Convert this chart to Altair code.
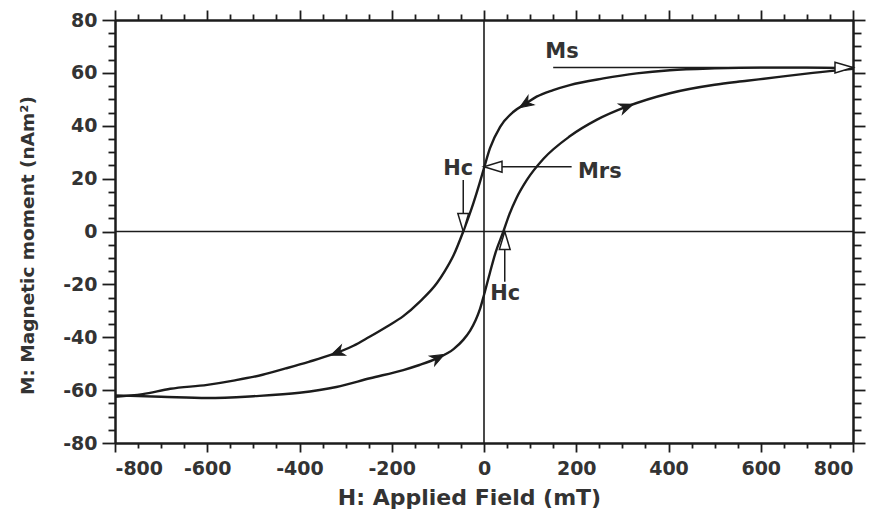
import altair as alt
import pandas as pd

# ---------------- data ----------------
# descending branch (upper curve, from +800 mT down to -800 mT)
down_H = [-800, -740, -680, -600, -540, -480, -430, -380, -334, -283, -250, -211,
          -175, -139, -102, -85, -66, -45, -23, -10, 0, 13, 35, 64, 90, 114, 150,
          186, 259, 331, 403, 500, 600, 700, 800]
down_M = [-62.5, -61.5, -59.5, -58, -56.3, -54.2, -51.8, -49.3, -46.8, -43.2, -40,
          -36, -32, -26.5, -19.5, -15, -9, 0, 10.7, 18, 24, 31.5, 39.6, 45.3,
          48.3, 51, 53.5, 55.4, 57.9, 59.8, 61, 61.7, 62, 62, 61.7]
# ascending branch (lower curve, from -800 mT up to +800 mT)
up_H = [-800, -700, -600, -500, -400, -320, -247, -175, -140, -102, -66, -45, -30,
        -18, -9, 0, 13, 25, 42, 55, 70, 93, 129, 186, 244, 309, 403, 500, 570, 640,
        713, 800]
up_M = [-62, -62.5, -63, -62.3, -61, -58.8, -55.5, -52.4, -50.5, -48, -44.5, -41,
        -37.5, -33.5, -29.5, -24, -15.5, -8, 0, 6.5, 12.5, 19.5, 27.5, 36, 42.2, 47.2,
        52.3, 55.5, 57, 58.5, 60, 61.5]

# direction arrowheads on the loop
dir_H = [90, -318, -100, 309]
dir_M = [48.3, -45.8, -47.8, 47.2]
dir_ang = [237, 248, 62, 69]

# annotation pointer lines
ann_x1 = [150, 0, -45, 45]
ann_x2 = [800, 190, -45, 45]
ann_y1 = [62, 24.5, 19.5, 0]
ann_y2 = [62, 24.5, 0, -19]

# hollow pointer heads (tip positions)
tri_H = [800, 0, -45, 45]
tri_M = [62, 24.5, 0, 0]
tri_ang = [90, 270, 180, 0]

# annotation labels
lab_text = ["Ms", "Mrs", "Hc", "Hc"]
lab_H = [169, 251, -56, 46]
lab_M = [68, 22.5, 23.5, -23.5]

# axis ticks
x_major = [-800, -600, -400, -200, 0, 200, 400, 600, 800]
x_minor = [v for v in range(-800, 801, 50) if v % 200 != 0]
y_major = [-80, -60, -40, -20, 0, 20, 40, 60, 80]
y_minor = [v for v in range(-80, 81, 5) if v % 20 != 0]

X_TITLE = "H: Applied Field (mT)"
Y_TITLE = "M: Magnetic moment (nAm²)"

# ---------------- chart ----------------
INK = "#1c1c1c"
TXT = "#333333"
FONT = "DejaVu Sans"

curve_df = pd.DataFrame({
    "H": down_H + up_H,
    "M": down_M + up_M,
    "branch": ["down"] * len(down_H) + ["up"] * len(up_H),
})
dir_df = pd.DataFrame({"H": dir_H, "M": dir_M, "ang": dir_ang})
ann_df = pd.DataFrame({"x1": ann_x1, "x2": ann_x2, "y1": ann_y1, "y2": ann_y2})
tri_df = pd.DataFrame({"H": tri_H, "M": tri_M, "ang": tri_ang})
lab_df = pd.DataFrame({"H": lab_H, "M": lab_M, "t": lab_text})

xs = alt.Scale(domain=[-800, 800], nice=False, zero=False)
ys = alt.Scale(domain=[-80, 80], nice=False, zero=False)

common_axis = dict(grid=False, domainColor=INK, domainWidth=2, tickColor=INK,
                   tickWidth=1.8)

curves = alt.Chart(curve_df).mark_line(
    color=INK, strokeWidth=2.4, interpolate="monotone"
).encode(
    x=alt.X("H:Q", scale=xs, axis=alt.Axis(
        orient="bottom", values=x_major, tickSize=9, labelPadding=7,
        labelExpr="'' + datum.value", labelFont=FONT, labelFontSize=19,
        labelFontWeight="bold", labelColor=TXT,
        title=X_TITLE, titleFont=FONT, titleFontSize=22, titleFontWeight="bold",
        titleColor=TXT, titleX=354, titleY=61, titleBaseline="alphabetic",
        titleAlign="center", **common_axis)),
    y=alt.Y("M:Q", scale=ys, axis=alt.Axis(
        orient="left", values=y_major, tickSize=13, labelPadding=5,
        labelExpr="'' + datum.value", labelFont=FONT, labelFontSize=19,
        labelFontWeight="bold", labelColor=TXT,
        title=Y_TITLE, titleFont=FONT, titleFontSize=18.5, titleFontWeight="bold",
        titleColor=TXT, titleX=-82, titleY=225, titleAngle=270,
        titleAlign="center", titleBaseline="alphabetic", **common_axis)),
    detail="branch:N",
)


def carrier(xaxis, yaxis):
    return alt.Chart(curve_df).mark_point(opacity=0).encode(
        x=alt.X("H:Q", scale=xs, axis=xaxis),
        y=alt.Y("M:Q", scale=ys, axis=yaxis),
    )


minor_bl = carrier(
    alt.Axis(orient="bottom", values=x_minor, tickSize=5, labels=False, title=None, **common_axis),
    alt.Axis(orient="left", values=y_minor, tickSize=7, labels=False, title=None, **common_axis),
)
major_tr = carrier(
    alt.Axis(orient="top", values=x_major, tickSize=10, labels=False, title=None, **common_axis),
    alt.Axis(orient="right", values=y_major, tickSize=12, labels=False, title=None, **common_axis),
)
minor_tr = carrier(
    alt.Axis(orient="top", values=x_minor, tickSize=6, labels=False, title=None, **common_axis),
    alt.Axis(orient="right", values=y_minor, tickSize=8, labels=False, title=None, **common_axis),
)

vzero = alt.Chart(pd.DataFrame({"H": [0]})).mark_rule(color=INK, strokeWidth=1.6).encode(
    x=alt.X("H:Q", scale=xs, axis=None))
hzero = alt.Chart(pd.DataFrame({"M": [0]})).mark_rule(color=INK, strokeWidth=1.6).encode(
    y=alt.Y("M:Q", scale=ys, axis=None))

pointers = alt.Chart(ann_df).mark_rule(color=INK, strokeWidth=1.5).encode(
    x=alt.X("x1:Q", scale=xs, axis=None), x2="x2:Q",
    y=alt.Y("y1:Q", scale=ys, axis=None), y2="y2:Q",
)

heads = alt.Chart(tri_df).mark_point(
    shape="M0,0L-0.6,2L0.6,2Z", size=324, filled=True, fill="white",
    stroke=INK, strokeWidth=1.5, opacity=1,
).encode(
    x=alt.X("H:Q", scale=xs, axis=None),
    y=alt.Y("M:Q", scale=ys, axis=None),
    angle=alt.Angle("ang:Q", scale=None),
)

arrows = alt.Chart(dir_df).mark_point(
    shape="M0,-1L0.75,0.9L0,0.35L-0.75,0.9Z", size=210, filled=True,
    fill=INK, stroke=INK, strokeWidth=1, opacity=1,
).encode(
    x=alt.X("H:Q", scale=xs, axis=None),
    y=alt.Y("M:Q", scale=ys, axis=None),
    angle=alt.Angle("ang:Q", scale=None),
)

labels = alt.Chart(lab_df).mark_text(
    font=FONT, fontSize=21, fontWeight="bold", color=TXT,
    align="center", baseline="middle",
).encode(
    x=alt.X("H:Q", scale=xs, axis=None),
    y=alt.Y("M:Q", scale=ys, axis=None),
    text="t:N",
)

chart = alt.layer(
    vzero, hzero, curves, minor_bl, major_tr, minor_tr,
    pointers, heads, arrows, labels,
).resolve_axis(
    x="independent", y="independent"
).properties(
    width=738, height=423, autosize="none",
    padding={"left": 115, "top": 20, "right": 20, "bottom": 67},
    background="white",
).configure_view(stroke=None)

chart.save("out.html", embed_options={"renderer": "svg", "actions": False})
